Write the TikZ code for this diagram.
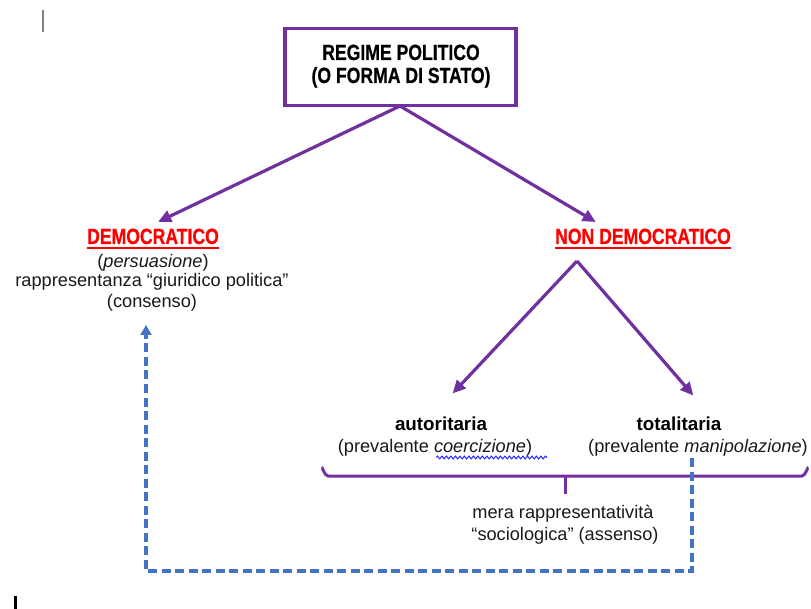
\documentclass[tikz,border=0pt]{standalone}
\usepackage{fontspec}
\setmainfont{Liberation Sans}
\newfontfamily\headfont[FakeStretch=0.8,FakeBold=0.6]{Liberation Sans Bold}
\usetikzlibrary{arrows.meta,decorations.pathmorphing}
\definecolor{pur}{HTML}{7030A0}
\definecolor{dblue}{HTML}{4472C4}
\definecolor{hred}{HTML}{FF0000}
\begin{document}
\begin{tikzpicture}[x=1pt,y=-1pt,
  body/.style={font=\fontsize{18.2}{21}\selectfont, anchor=base, inner sep=0pt, text=black!90},
  head/.style={font=\fontsize{22}{25}\headfont, anchor=base, inner sep=0pt},
  sub/.style={font=\fontsize{18.8}{21}\selectfont\bfseries, anchor=base, inner sep=0pt},
  parr/.style={draw=pur, line width=3.2pt, -{Triangle[length=13pt,width=12pt]}, shorten >=-2pt},
  pline/.style={draw=pur, line width=3pt},
  bdash/.style={draw=dblue, line width=3.6pt, dash pattern=on 9pt off 4.5pt}
]
\useasboundingbox (0,0) rectangle (811,609);
% main box
\node[draw=pur, line width=3.2pt, minimum width=231pt, minimum height=77pt, inner sep=0pt] (box) at (400.5,67) {};
\node[head] (t1) at (401,60) {REGIME POLITICO};
\node[head] (t2) at (401,83) {(O FORMA DI STATO)};
% democratico
\node[head, text=hred] (dem) at (153,244) {DEMOCRATICO};
\draw[hred, line width=1.5pt] ([yshift=-4pt]dem.base west) -- ([yshift=-4pt]dem.base east);
\node[body] (d1) at (153,268) {(\textit{persuasione})};
\node[body] (d2) at (152,287) {rappresentanza “giuridico politica”};
\node[body] (d3) at (152,308) {(consenso)};
% non democratico
\node[head, text=hred] (ndem) at (643,244) {NON DEMOCRATICO};
\draw[hred, line width=1.5pt] ([yshift=-4pt]ndem.base west) -- ([yshift=-4pt]ndem.base east);
% arrows from box
\coordinate (b0) at (400,106);
\coordinate (dtip) at (160,221);
\coordinate (ntip) at (594,221);
\draw[parr] (b0) -- (dtip);
\draw[parr] (b0) -- (ntip);
% split
\coordinate (peak) at (577,261);
\coordinate (atip) at (454,392);
\coordinate (ttip) at (692,394);
\draw[parr] (peak) -- (atip);
\draw[parr] (peak) -- (ttip);
\node[sub] (aut) at (441,430) {autoritaria};
\node[sub] (tot) at (679,430) {totalitaria};
\node[body] (a1) at (435,452) {(prevalente \textit{coercizione})};
\node[body] (t1b) at (698,452) {(prevalente \textit{manipolazione})};
\draw[blue!85, line width=1pt, decorate, decoration={snake, amplitude=1.4pt, segment length=4.5pt}] (436,457.5) -- (547,457.5);
% brace
\coordinate (bl) at (322,469);
\coordinate (br) at (808,469);
\coordinate (bm) at (565,476);
\coordinate (bmd) at (565,494);
\draw[pline] (bl) to[out=90,in=180] (328,476) -- (802,476) to[out=0,in=90] (br);
\draw[pline] (bm) -- (bmd);
\node[body] (m1) at (563,518) {mera rappresentatività};
\node[body] (m2) at (565,540) {“sociologica” (assenso)};
% dashed feedback
\coordinate (ds) at (692,458);
\coordinate (dc1) at (692,571);
\coordinate (dc2) at (146,571);
\coordinate (de) at (146,325);
\draw[bdash] (ds) -- (dc1) -- (dc2) -- ([yshift=-9pt]de);
\draw[dblue, line width=3.6pt, -{Triangle[length=10pt,width=11pt]}] ([yshift=-11pt]de) -- (de);
% cursor marks
\draw[gray, line width=1.3pt] (43,10) -- (43,32);
\draw[black, line width=3pt] (15,596) -- (15,609);
\end{tikzpicture}
\end{document}
